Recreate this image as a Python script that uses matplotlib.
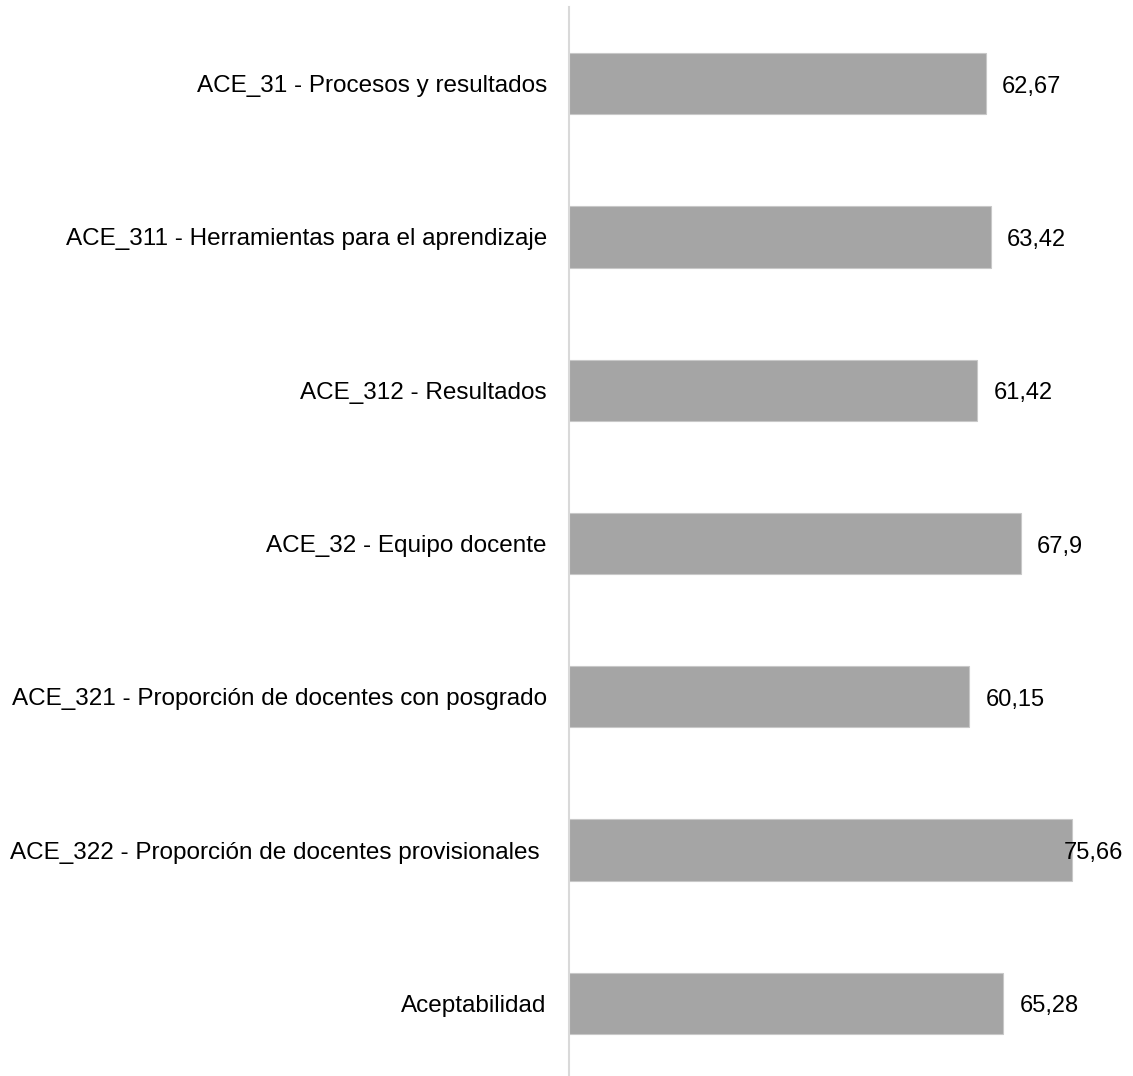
import matplotlib
matplotlib.use("Agg")
import matplotlib.pyplot as plt

categorias = [
    "ACE_31 - Procesos y resultados",
    "ACE_311 - Herramientas para el aprendizaje",
    "ACE_312 - Resultados",
    "ACE_32 - Equipo docente",
    "ACE_321 - Proporción de docentes con posgrado",
    "ACE_322 - Proporción de docentes provisionales ",
    "Aceptabilidad",
]
valores = [62.67, 63.42, 61.42, 67.9, 60.15, 75.66, 65.28]
etiquetas = ["62,67", "63,42", "61,42", "67,9", "60,15", "75,66", "65,28"]

plt.rcParams["font.family"] = ["Liberation Sans", "DejaVu Sans"]

fig = plt.figure(figsize=(11.33, 10.76), dpi=100)
ax = fig.add_axes([0.5022, -0.0037, 0.4978, 0.9972])

y = list(range(len(categorias)))
ax.barh(y, valores, height=0.4, color="#a5a5a5", edgecolor="#c8c8c8", linewidth=0.8)
ax.set_ylim(len(categorias) - 0.5, -0.5)
ax.set_xlim(0, 84.8)

# la etiqueta de la barra mas larga queda recortada al borde del area
for yi, v, lab in zip(y, valores, etiquetas):
    ax.text(min(v + 2.45, 74.4), yi + 0.02, lab, va="center", ha="left",
            fontsize=17, color="black")

ax.set_yticks(y)
ax.set_yticklabels(categorias, fontsize=17.5)
ax.tick_params(axis="y", length=0, pad=16)
ax.set_xticks([])
for s in ["top", "right", "bottom"]:
    ax.spines[s].set_visible(False)
ax.spines["left"].set_color("#d9d9d9")
ax.spines["left"].set_linewidth(1.5)

fig.savefig("out.png", dpi=100)
